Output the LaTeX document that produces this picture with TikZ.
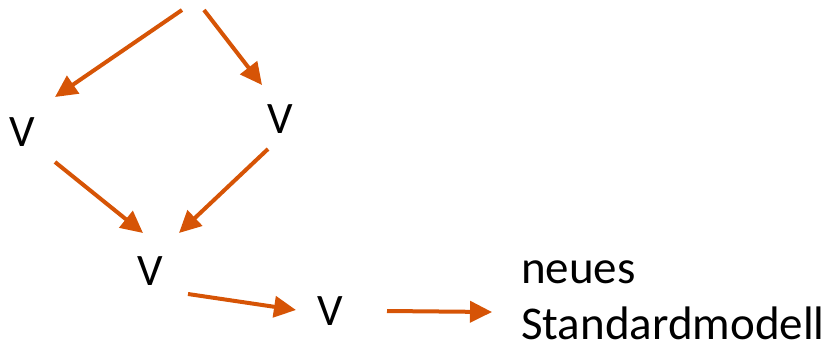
\documentclass[tikz,border=0pt]{standalone}
\usepackage{fontspec}
\setmainfont{Carlito}
\usetikzlibrary{arrows.meta}
\usetikzlibrary{positioning}
\definecolor{pfeilfarbe}{RGB}{214,84,6}
\tikzset{pfeil/.style = {draw = pfeilfarbe, line width = 4pt, -{Triangle[length = 22pt, width = 21pt]}},
  vtext/.style = {inner sep = 0, font = \fontsize{45}{60}\selectfont}}

\begin{document}
\begin{tikzpicture}[x = 1pt, y = -1pt]
      \useasboundingbox (0, 0) rectangle (834, 351);
      \foreach \n/\x/\y in {vl/22/132, vr/280/119, vm/150/271, vu/330/311} {
        \node [vtext] (\n) at (\x, \y) {V};
      }
      \node [vtext, font = \fontsize{47}{56}\selectfont, anchor = base west, align = left] (sm) at (521, 339) {neues\\Standardmodell};
      \foreach \n/\x/\y in {ol/182/10, or/204/10, vl-in/55/97, vr-in/262/85,
                            vl-out/55/162, vr-out/268/149, vm-l/143/233, vm-r/179/233,
                            vm-out/188/294, vu-in/296/310, vu-out/387/311, sm-in/492/312} {
        \coordinate (\n) at (\x, \y);
      }
      \foreach \a/\b in {ol/vl-in, or/vr-in, vl-out/vm-l, vr-out/vm-r, vm-out/vu-in, vu-out/sm-in}
        \draw [pfeil] (\a) -- (\b);
    \end{tikzpicture}
\end{document}
